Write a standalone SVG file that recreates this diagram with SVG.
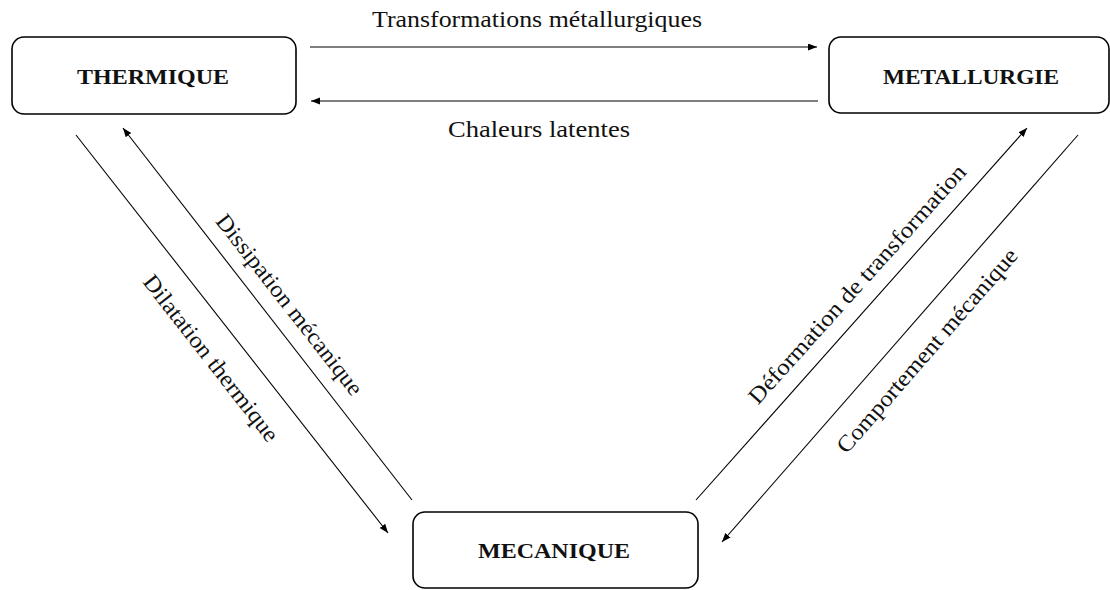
<svg xmlns="http://www.w3.org/2000/svg" width="1110" height="590" viewBox="0 0 1110 590">
  <style>
    .box { fill: #ffffff; stroke: #000000; stroke-width: 1.6; }
    .title { font-family: "Liberation Serif", "DejaVu Serif", serif; font-weight: bold; font-size: 22px; fill: #111; text-anchor: middle; }
    .lbl { font-family: "Liberation Serif", "DejaVu Serif", serif; font-size: 23px; fill: #111; text-anchor: middle; }
    .conn { stroke: #000000; stroke-width: 1.1; fill: none; marker-end: url(#arr); }
  </style>
  <defs>
    <marker id="arr" markerUnits="userSpaceOnUse" markerWidth="10" markerHeight="8" refX="9" refY="3.5" orient="auto">
      <path d="M0,0 L9,3.5 L0,7 z" fill="#000"/>
    </marker>
  </defs>
  <rect width="1110" height="590" fill="#ffffff"/>

  <g id="thermique">
    <rect class="box" x="12" y="37" width="284" height="77" rx="12"/>
    <text class="title" x="153" y="84" textLength="152" lengthAdjust="spacingAndGlyphs">THERMIQUE</text>
  </g>
  <g id="metallurgie">
    <rect class="box" x="829" y="37" width="280" height="76" rx="12"/>
    <text class="title" x="971" y="84" textLength="176" lengthAdjust="spacingAndGlyphs">METALLURGIE</text>
  </g>
  <g id="mecanique">
    <rect class="box" x="413" y="512" width="285" height="76" rx="12"/>
    <text class="title" x="554" y="558" textLength="152" lengthAdjust="spacingAndGlyphs">MECANIQUE</text>
  </g>

  <g id="connectors">
    <line class="conn" x1="310" y1="47" x2="817" y2="47"/>
    <line class="conn" x1="818" y1="101" x2="311" y2="101"/>
    <line class="conn" x1="76" y1="135" x2="388" y2="533"/>
    <line class="conn" x1="412" y1="500" x2="123" y2="128"/>
    <line class="conn" x1="696" y1="500" x2="1027" y2="128"/>
    <line class="conn" x1="1078" y1="135" x2="722" y2="542"/>
  </g>

  <g id="labels">
    <text class="lbl" x="537" y="27" textLength="330" lengthAdjust="spacingAndGlyphs">Transformations métallurgiques</text>
    <text class="lbl" x="539" y="137" textLength="182" lengthAdjust="spacingAndGlyphs">Chaleurs latentes</text>
    <text class="lbl" transform="translate(289,305) rotate(52)" y="7" textLength="223" lengthAdjust="spacingAndGlyphs">Dissipation mécanique</text>
    <text class="lbl" transform="translate(210.5,358.5) rotate(52)" y="7" textLength="205" lengthAdjust="spacingAndGlyphs">Dilatation thermique</text>
    <text class="lbl" transform="translate(857.5,284.5) rotate(-48)" y="7" textLength="313" lengthAdjust="spacingAndGlyphs">Déformation de transformation</text>
    <text class="lbl" transform="translate(927.5,351) rotate(-49)" y="7" textLength="263" lengthAdjust="spacingAndGlyphs">Comportement mécanique</text>
  </g>
</svg>
